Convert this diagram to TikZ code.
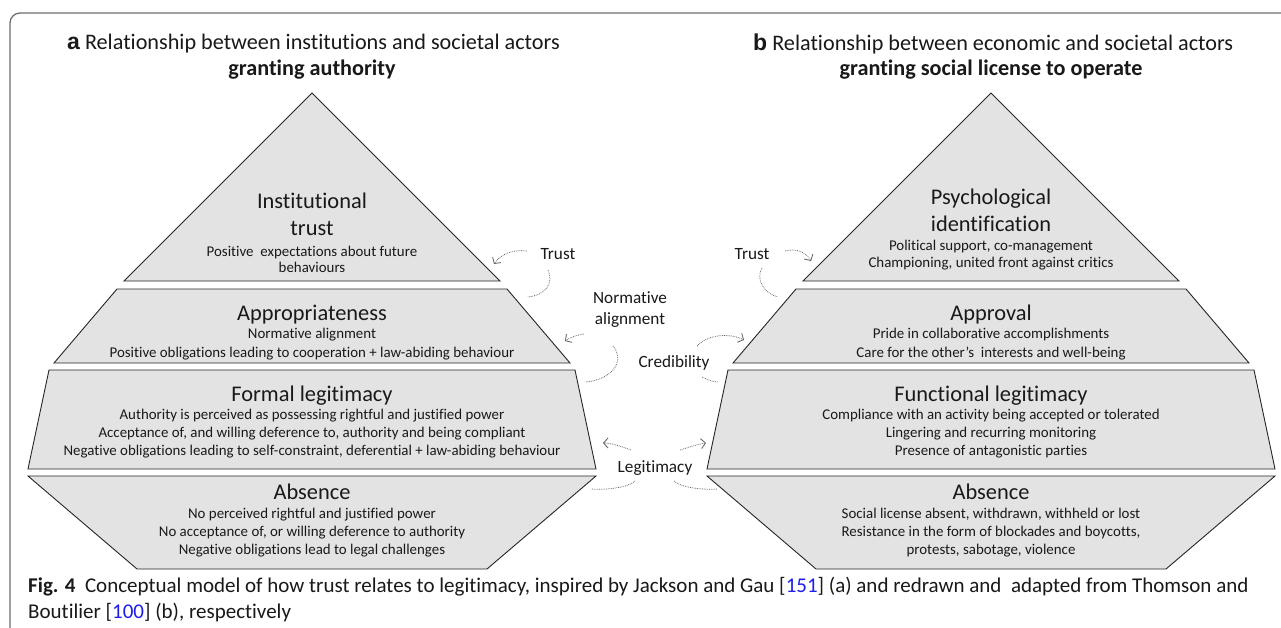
\documentclass[tikz,border=0pt]{standalone}
\usepackage{fontspec}
\setmainfont[Ligatures=NoCommon]{Carlito}
\newfontfamily\arialf{Liberation Sans}
\usetikzlibrary{arrows.meta}
\definecolor{layerfill}{RGB}{227,227,227}
\definecolor{framec}{RGB}{110,110,110}
\definecolor{linkc}{RGB}{30,30,235}
\definecolor{dotc}{RGB}{95,95,95}
\definecolor{txt}{RGB}{25,25,25}
\begin{document}
\begin{tikzpicture}[x=1pt,y=-1pt,
  layer/.style={fill=layerfill,draw=black!85,line width=0.9pt,line join=miter},
  ttl/.style={font=\fontsize{22.4}{26}\selectfont,inner sep=0pt,text height=14.7pt,text depth=0pt,text=txt},
  sub/.style={font=\fontsize{14.9}{17}\selectfont,inner sep=0pt,text height=9.8pt,text depth=0pt,text=txt},
  lbl/.style={font=\fontsize{17.2}{20}\selectfont,inner sep=0pt,text height=11.3pt,text depth=0pt,text=txt},
  hdr/.style={font=\fontsize{22.2}{24}\selectfont,inner sep=0pt,text height=14.6pt,text depth=0pt,text=txt},
  captxt/.style={font=\fontsize{21}{24}\selectfont,inner sep=0pt,text height=13.7pt,text depth=0pt,text=txt,anchor=west},
  dots/.style={densely dotted,draw=dotc,line width=0.75pt},
  arr/.style={dots,-{Straight Barb[length=4.5pt,width=10pt,line width=0.8pt]}}
]
\clip (0,0) rectangle (1281,628);
\fill[white] (0,0) rectangle (1281,628);
% frame
\draw[framec,line width=1.3pt,rounded corners=10pt] (10,660) -- (10,13) -- (1320,13);

% headers
\node[hdr,anchor=west] (ha) at (67,42) {{\arialf\bfseries\fontsize{23}{24}\selectfont a} Relationship between institutions and societal actors};
\node[hdr] (ha2) at (312,68) {\bfseries granting authority};
\node[hdr,anchor=west] (hb) at (753,43) {{\arialf\bfseries\fontsize{23}{24}\selectfont b} Relationship between economic and societal actors};
\node[hdr] (hb2) at (991,68) {\bfseries granting social license to operate};

% left pyramid
\begin{scope}[xshift=312pt]
\draw[layer] (0,93) -- (188,281) -- (-188,281) -- cycle;
\draw[layer] (-195,289) -- (195,289) -- (258,363) -- (-258,363) -- cycle;
\draw[layer] (-263,370) -- (263,370) -- (284,469) -- (-284,469) -- cycle;
\draw[layer] (-284,476) -- (284,476) -- (175,569) -- (-175,569) -- cycle;
\node[ttl] (l1a) at (0,201) {Institutional};
\node[ttl] (l1b) at (0,228) {trust};
\node[sub] (l1c) at (0,252) {Positive\ \ expectations about future};
\node[sub] (l1d) at (0,268) {behaviours};
\node[ttl] (l2a) at (0,313) {Appropriateness};
\node[sub] (l2b) at (0,334) {Normative alignment};
\node[sub] (l2c) at (0,353) {Positive obligations leading to cooperation + law-abiding behaviour};
\node[ttl] (l3a) at (0,394) {Formal legitimacy};
\node[sub] (l3b) at (0,415) {Authority is perceived as possessing rightful and justified power};
\node[sub] (l3c) at (0,433) {Acceptance of, and willing deference to, authority and being compliant};
\node[sub] (l3d) at (0,451) {Negative obligations leading to self-constraint, deferential + law-abiding behaviour};
\node[ttl] (l4a) at (0,492) {Absence};
\node[sub] (l4b) at (0,514) {No perceived rightful and justified power};
\node[sub] (l4c) at (0,532) {No acceptance of, or willing deference to authority};
\node[sub] (l4d) at (0,550) {Negative obligations lead to legal challenges};
\end{scope}

% right pyramid
\begin{scope}[xshift=991pt]
\draw[layer] (0,93) -- (188,281) -- (-188,281) -- cycle;
\draw[layer] (-195,289) -- (195,289) -- (258,363) -- (-258,363) -- cycle;
\draw[layer] (-263,370) -- (263,370) -- (284,469) -- (-284,469) -- cycle;
\draw[layer] (-284,476) -- (284,476) -- (175,569) -- (-175,569) -- cycle;
\node[ttl] (r1a) at (0,197) {Psychological};
\node[ttl] (r1b) at (0,224) {identification};
\node[sub] (r1c) at (0,246) {Political support, co-management};
\node[sub] (r1d) at (0,263) {Championing, united front against critics};
\node[ttl] (r2a) at (0,313) {Approval};
\node[sub] (r2b) at (0,334) {Pride in collaborative accomplishments};
\node[sub] (r2c) at (0,353) {Care for the other’s\ \ interests and well-being};
\node[ttl] (r3a) at (0,394) {Functional legitimacy};
\node[sub] (r3b) at (0,415) {Compliance with an activity being accepted or tolerated};
\node[sub] (r3c) at (0,433) {Lingering and recurring monitoring};
\node[sub] (r3d) at (0,451) {Presence of antagonistic parties};
\node[ttl] (r4a) at (0,492) {Absence};
\node[sub] (r4b) at (0,514) {Social license absent, withdrawn, withheld or lost};
\node[sub] (r4c) at (0,532) {Resistance in the form of blockades and boycotts,};
\node[sub] (r4d) at (0,550) {protests, sabotage, violence};
\end{scope}

% middle labels
\node[lbl] (trustL) at (558,254) {Trust};
\node[lbl,align=center] (norm) at (630,319) {Normative\\[1pt]alignment};
\node[lbl] (cred) at (674,362) {Credibility};
\node[lbl] (trustR) at (752,254) {Trust};
\node[lbl] (legit) at (655,467) {Legitimacy};

% curve end points
\coordinate (a1s) at (527,251); \coordinate (a1e) at (494,264);
\coordinate (c1s) at (548,270); \coordinate (c1e) at (528,297);
\coordinate (a2s) at (584,334); \coordinate (a2e) at (565,341);
\coordinate (c2s) at (613,346); \coordinate (c2e) at (585,382);
\coordinate (a3s) at (697,346); \coordinate (a3e) at (744,340);
\coordinate (c3s) at (702,377); \coordinate (c3e) at (718,382);
\coordinate (a4s) at (785,251); \coordinate (a4e) at (811,261);
\coordinate (c4s) at (762,268); \coordinate (c4e) at (778,297);
\coordinate (a5s) at (631,450); \coordinate (a5e) at (603,443);
\coordinate (a6s) at (680,450); \coordinate (a6e) at (706,443);
\coordinate (c5s) at (635,481); \coordinate (c5e) at (591,489);
\coordinate (c6s) at (674,481); \coordinate (c6e) at (717,489);

\draw[arr] (a1s) .. controls (512,249) and (500,255) .. (a1e);
\draw[dots] (c1s) .. controls (554,283) and (546,295) .. (c1e);
\draw[arr] (a2s) .. controls (577,335) and (571,337) .. (a2e);
\draw[dots] (c2s) .. controls (626,362) and (611,380) .. (c2e);
\draw[arr] (a3s) .. controls (708,334) and (730,333) .. (a3e);
\draw[dots] (c3s) .. controls (708,380) and (713,382) .. (c3e);
\draw[arr] (a4s) .. controls (796,248) and (806,252) .. (a4e);
\draw[dots] (c4s) .. controls (755,280) and (765,294) .. (c4e);
\draw[arr] (a5s) .. controls (620,446) and (611,443) .. (a5e);
\draw[arr] (a6s) .. controls (690,447) and (698,444) .. (a6e);
\draw[dots] (c5s) .. controls (628,488) and (605,490) .. (c5e);
\draw[dots] (c6s) .. controls (681,488) and (705,490) .. (c6e);

% caption
\node[captxt] (cap1) at (28,586) {{\bfseries Fig. 4}\ \ Conceptual model of how trust relates to legitimacy, inspired by Jackson and Gau [{\color{linkc}151}] (a) and redrawn and\ \ adapted from Thomson and};
\node[captxt] (cap2) at (28,612) {Boutilier [{\color{linkc}100}] (b), respectively};
\end{tikzpicture}
\end{document}
